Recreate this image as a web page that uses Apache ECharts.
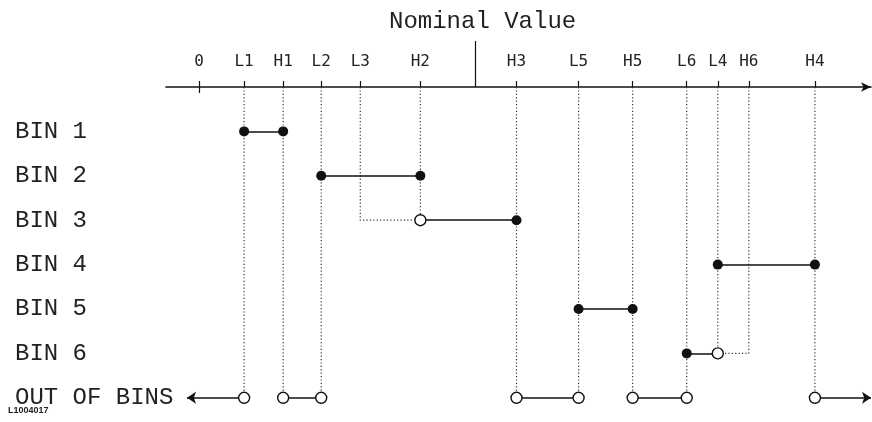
<!DOCTYPE html>
<html>
<head>
<meta charset="utf-8">
<script src="https://cdn.jsdelivr.net/npm/echarts@6/dist/echarts.min.js"></script>
<style>
  html, body { margin: 0; padding: 0; background: #fff; }
  #chart { width: 872px; height: 422px; }
</style>
</head>
<body>
<div id="chart"></div>
<script>
// tick marks along the nominal value axis
const tickNames = ['0', 'L1', 'H1', 'L2', 'L3', 'H2', 'H3', 'L5', 'H5', 'L6', 'L4', 'H6', 'H4'];
const tickValues = [0, 45, 84, 122, 161, 221, 317, 379, 433, 487, 518, 549, 615];
// row index each dotted guide drops to (null = no guide)
const dropRows = [null, 6, 6, 6, 2, 2, 6, 6, 6, 6, 5, 5, 6];
const nominalValue = 276;

const binNames = ['BIN 1', 'BIN 2', 'BIN 3', 'BIN 4', 'BIN 5', 'BIN 6', 'OUT OF BINS'];
// [from, to, row, fromClosed, toClosed]
const binSegments = [
  ['L1', 'H1', 0, true, true],
  ['L2', 'H2', 1, true, true],
  ['H2', 'H3', 2, false, true],
  ['L4', 'H4', 3, true, true],
  ['L5', 'H5', 4, true, true],
  ['L6', 'L4', 5, true, false],
  ['H1', 'L2', 6, false, false],
  ['H3', 'L5', 6, false, false],
  ['H5', 'L6', 6, false, false]
];
// dotted horizontal links [from, to, row]
const dottedLinks = [['L3', 'H2', 2], ['H6', 'L4', 5]];
// out of bins arrows [from tick, axis value the arrow points to]
const outArrows = [['L1', -12], ['H4', 671]];

const val = name => tickValues[tickNames.indexOf(name)];

let myChart = echarts.init(document.getElementById('chart'));

// dotted guides from the axis down
let guides = [];
tickNames.forEach((n, i) => {
  if (dropRows[i] == null) return;
  let coords = [[tickValues[i], -1], [tickValues[i], dropRows[i]]];
  dottedLinks.forEach(d => {
    if (d[0] === n) coords.push([val(d[1]), d[2]]);
  });
  guides.push({ coords: coords });
});

let solid = binSegments.map(s => ({ coords: [[val(s[0]), s[2]], [val(s[1]), s[2]]] }));
let arrows = outArrows.map(a => ({ coords: [[val(a[0]), 6], [a[1], 6]] }));

let filled = [], open = [];
binSegments.forEach(s => {
  (s[3] ? filled : open).push([val(s[0]), s[2]]);
  (s[4] ? filled : open).push([val(s[1]), s[2]]);
});
outArrows.forEach(a => open.push([val(a[0]), 6]));

const mono = 'Liberation Mono';
const tickFont = 'DejaVu Sans Mono';

let baseX = {
  type: 'value',
  position: 'top',
  min: -33,
  max: 671,
  splitLine: { show: false }
};

let options = {
  animation: false,
  title: {
    text: 'Nominal Value',
    left: 384,
    top: 5,
    textStyle: { fontFamily: mono, fontSize: 24, fontWeight: 'normal', color: '#222' }
  },
  graphic: [{
    type: 'text',
    left: 8,
    top: 406,
    style: { text: 'L1004017', font: 'bold 9px "Liberation Sans"', fill: '#222' }
  }],
  grid: { left: 166, right: 1, top: 87, bottom: 2 },
  xAxis: [
    Object.assign({}, baseX, {
      axisLine: { show: true, onZero: false, symbol: ['none', 'arrow'], symbolSize: [7, 10], lineStyle: { color: '#111', width: 1.6 } },
      axisTick: { show: true, customValues: tickValues, length: 6, lineStyle: { color: '#111', width: 1.2 } },
      axisLabel: {
        show: true,
        customValues: tickValues,
        margin: 17,
        formatter: v => tickNames[tickValues.indexOf(v)],
        fontFamily: tickFont,
        fontSize: 16,
        color: '#222'
      }
    }),
    Object.assign({}, baseX, {
      axisLine: { show: false, onZero: false },
      axisTick: { show: true, inside: true, customValues: [0], length: 6, lineStyle: { color: '#111', width: 1.2 } },
      axisLabel: { show: false }
    }),
    Object.assign({}, baseX, {
      axisLine: { show: false, onZero: false },
      axisTick: { show: true, customValues: [nominalValue], length: 46, lineStyle: { color: '#111', width: 1.2 } },
      axisLabel: { show: false }
    })
  ],
  yAxis: {
    type: 'value',
    inverse: true,
    min: -1,
    max: 6.5,
    axisLine: { show: false },
    axisTick: { show: false },
    splitLine: { show: false },
    axisLabel: {
      customValues: [0, 1, 2, 3, 4, 5, 6],
      formatter: v => binNames[v],
      align: 'left',
      margin: 151,
      fontFamily: mono,
      fontSize: 24,
      color: '#222'
    }
  },
  series: [
    {
      type: 'lines',
      coordinateSystem: 'cartesian2d',
      polyline: true,
      clip: false,
      silent: true,
      lineStyle: { color: '#333', width: 1.2, type: [1.2, 2.2], opacity: 1 },
      data: guides
    },
    {
      type: 'lines',
      coordinateSystem: 'cartesian2d',
      silent: true,
      lineStyle: { color: '#111', width: 1.6, opacity: 1 },
      data: solid
    },
    {
      type: 'lines',
      coordinateSystem: 'cartesian2d',
      silent: true,
      clip: false,
      symbol: ['none', 'arrow'],
      symbolSize: [7, 9],
      lineStyle: { color: '#111', width: 1.6, opacity: 1 },
      data: arrows
    },
    {
      type: 'scatter',
      symbolSize: 11,
      itemStyle: { color: '#fff', borderColor: '#111', borderWidth: 1.4, opacity: 1 },
      data: open
    },
    {
      type: 'scatter',
      symbolSize: 10,
      itemStyle: { color: '#111', opacity: 1 },
      data: filled
    }
  ]
};

myChart.setOption(options);
</script>
</body>
</html>
